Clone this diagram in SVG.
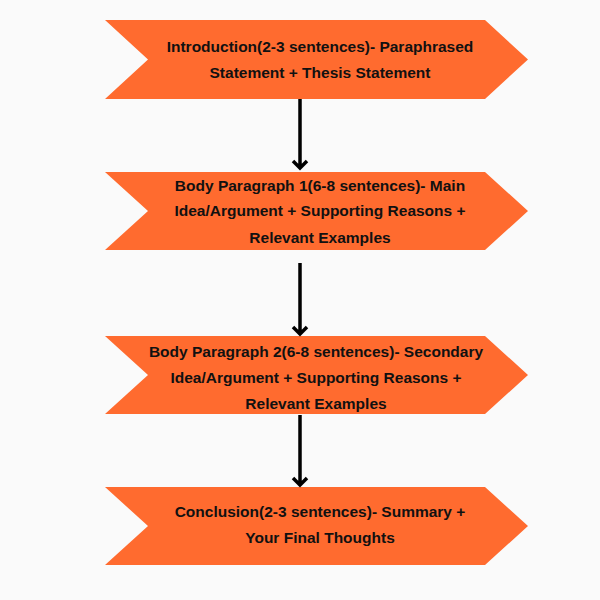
<svg xmlns="http://www.w3.org/2000/svg" width="600" height="600" viewBox="0 0 600 600">
<style>
.s{fill:#ff6b2f}
.t{font-family:"Liberation Sans",Arial,sans-serif;font-weight:bold;font-size:15.5px;fill:#111;text-anchor:middle}
.c{stroke:#000;stroke-width:3.5;fill:none}
</style>
<rect width="600" height="600" fill="#fafafa"/>
<g id="n1"><polygon class="s" points="105,20 485,20 528,59.5 485,99 105,99 148,59.5"/>
<text class="t" x="320" y="52">Introduction(2-3 sentences)- Paraphrased</text>
<text class="t" x="320" y="78">Statement + Thesis Statement</text></g>
<g id="n2"><polygon class="s" points="105,172 485,172 528,211 485,250 105,250 148,211"/>
<text class="t" x="320" y="191">Body Paragraph 1(6-8 sentences)- Main</text>
<text class="t" x="320" y="216">Idea/Argument + Supporting Reasons +</text>
<text class="t" x="320" y="243">Relevant Examples</text></g>
<g id="n3"><polygon class="s" points="105,336 485,336 528,375 485,414 105,414 148,375"/>
<text class="t" x="316" y="357">Body Paragraph 2(6-8 sentences)- Secondary</text>
<text class="t" x="316" y="383">Idea/Argument + Supporting Reasons +</text>
<text class="t" x="316" y="409">Relevant Examples</text></g>
<g id="n4"><polygon class="s" points="105,487 485,487 528,526 485,565 105,565 148,526"/>
<text class="t" x="320" y="517">Conclusion(2-3 sentences)- Summary +</text>
<text class="t" x="320" y="543">Your Final Thoughts</text></g>
<g id="connectors">
<path class="c" d="M300,99V168M293,161L300,168L307,161"/>
<path class="c" d="M300,263V334M293,327L300,334L307,327"/>
<path class="c" d="M300,415V485M293,478L300,485L307,478"/>
</g>
</svg>
